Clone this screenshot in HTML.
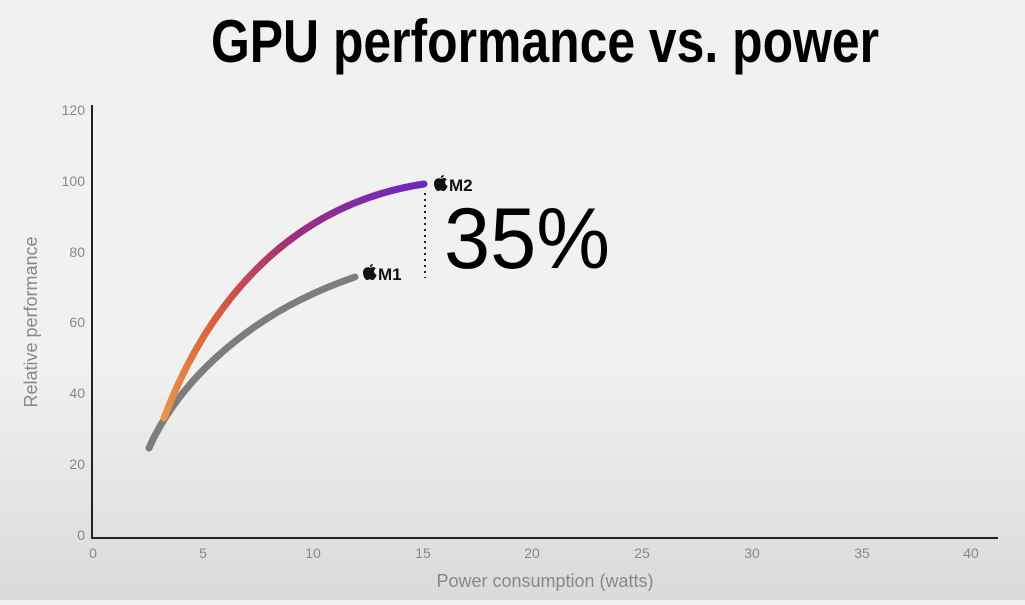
<!DOCTYPE html>
<html><head><meta charset="utf-8"><style>
html,body{margin:0;padding:0}
body{width:1025px;height:600px;overflow:hidden;background:linear-gradient(#f1f1f1 0,#f1f1f1 360px,#dadada 600px);font-family:"Liberation Sans",sans-serif}
</style></head><body>
<svg width="1025" height="600" viewBox="0 0 1025 600" xmlns="http://www.w3.org/2000/svg">
<defs>
<linearGradient id="g" x1="165" y1="418" x2="424" y2="184" gradientUnits="userSpaceOnUse">
<stop offset="0" stop-color="#e8964a"/>
<stop offset="0.3" stop-color="#d9603a"/>
<stop offset="0.6" stop-color="#a0307a"/>
<stop offset="1" stop-color="#6a28c0"/>
</linearGradient>
<g id="apple">
<path d="M7,4 C4,3 0,5 0,10 C0,15 3,19 5,19 C6,19 7,18 8,18 C9,18 10,19 11,19 C13,19 15,16 16,13 C14,12 13,10 13,9 C13,7 14,6 15,5 C14,4 12,3 10,4 C9,4.5 8,4.5 7,4 Z" fill="#111"/>
<path d="M8,3.5 C8,1.5 9.5,0 11.5,0 C11.5,2 10,3.5 8,3.5 Z" fill="#111"/>
</g>
</defs>
<text x="545" y="62" text-anchor="middle" font-size="60" font-weight="bold" fill="#000" textLength="668" lengthAdjust="spacingAndGlyphs">GPU performance vs. power</text>
<g stroke="#222" stroke-width="2" fill="none">
<line x1="92" y1="105" x2="92" y2="538"/>
<line x1="91" y1="538" x2="998" y2="538"/>
</g>
<g font-size="14" fill="#888" text-anchor="end">
<text x="85" y="115">120</text><text x="85" y="186">100</text><text x="85" y="257">80</text>
<text x="85" y="327">60</text><text x="85" y="398">40</text><text x="85" y="469">20</text><text x="85" y="540">0</text>
</g>
<g font-size="14" fill="#888" text-anchor="middle">
<text x="93" y="558">0</text><text x="203" y="558">5</text><text x="313" y="558">10</text><text x="423" y="558">15</text>
<text x="532" y="558">20</text><text x="642" y="558">25</text><text x="752" y="558">30</text><text x="862" y="558">35</text><text x="971" y="558">40</text>
</g>
<text x="545" y="587" text-anchor="middle" font-size="18" fill="#888">Power consumption (watts)</text>
<text transform="translate(37,322) rotate(-90)" text-anchor="middle" font-size="18" fill="#888">Relative performance</text>
<path d="M149,448 C172,395 235,318 355,277" stroke="#7d7d7d" stroke-width="7" fill="none" stroke-linecap="round"/>
<path d="M164,418 C205,310 285,205 424,184" stroke="url(#g)" stroke-width="7" fill="none" stroke-linecap="round"/>
<line x1="425" y1="193" x2="425" y2="278" stroke="#222" stroke-width="2" stroke-dasharray="2,4"/>
<use href="#apple" transform="translate(434,175) scale(0.85)"/>
<text x="449" y="191" font-size="17" font-weight="bold" fill="#111">M2</text>
<use href="#apple" transform="translate(363,264) scale(0.85)"/>
<text x="378" y="280" font-size="17" font-weight="bold" fill="#111">M1</text>
<text x="444" y="268" font-size="86" fill="#000" textLength="166" lengthAdjust="spacingAndGlyphs">35%</text>
</svg>
</body></html>
